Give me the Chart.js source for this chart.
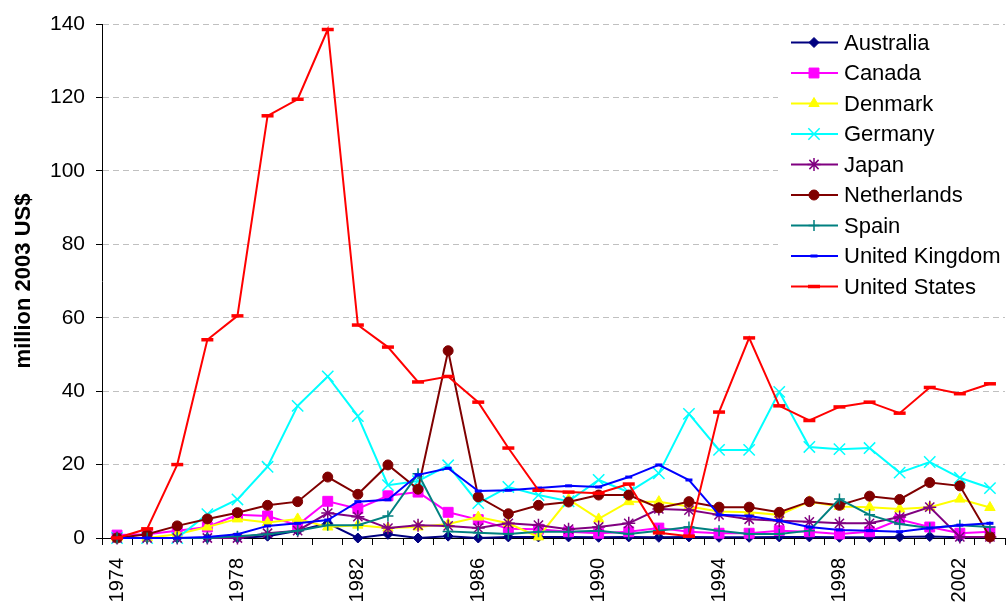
<!DOCTYPE html>
<html>
<head>
<meta charset="utf-8">
<script src="https://cdn.jsdelivr.net/npm/chart.js@4/dist/chart.umd.min.js"></script>
<style>
  html, body { margin: 0; padding: 0; background: #fff; }
  canvas { display: block; }
</style>
</head>
<body>
<canvas id="chart" width="1007" height="603"></canvas>
<script>
const FONT = '"Liberation Sans", Arial, sans-serif';

const YEARS = ['1974','1975','1976','1977','1978','1979','1980','1981','1982','1983',
  '1984','1985','1986','1987','1988','1989','1990','1991','1992','1993',
  '1994','1995','1996','1997','1998','1999','2000','2001','2002','2003'];

const AUSTRALIA = [0,0,0,0,0,0.5,2,4,0,1,0,0.5,0,0.3,0.3,0.3,0.2,0.3,0.2,0.3,0.2,0.2,0.3,0.3,0.2,0.2,0.3,0.4,0.2,0.3];
const CANADA = [0.8,1,2,3,6.3,6,3.5,10,8,11.5,12.5,7,5,2.5,2.4,1.7,1.3,1.7,2.7,1.7,1.3,1.3,2,1.7,1.1,1.7,5,3,1.3,1.7];
const DENMARK = [0,0,1,3,5.2,4.2,5.2,3,3.5,2.7,3,3.8,5.7,4,0.3,10.5,5.2,9.9,9.9,8.6,7.2,7,6.3,9.9,8.6,8.4,7.9,8.4,10.6,8.3];
const GERMANY = [0,0,0,6.5,10.5,19.4,36,44,33.2,14.4,15.5,19.8,9.5,13.9,11.7,10,15.8,12.5,17.6,33.8,24,24,39.8,24.8,24.2,24.5,17.8,20.7,16.4,13.6];
const JAPAN = [0,0,0,0,0,1.3,2,6.8,5.8,2.7,3.5,3.3,2.7,4,3.5,2.4,3,4,7.9,7.6,6.3,5.1,4.7,4.4,4,4,5.7,8.4,0.3,0.3];
const NETHERLANDS = [0,1,3.3,5.2,6.9,8.9,9.9,16.6,11.9,19.9,13.3,51,11.2,6.6,8.9,9.8,11.7,11.7,8.2,9.9,8.4,8.4,7,9.9,8.9,11.4,10.5,15.1,14.2,0.3];
const SPAIN = [0,0,0,0,0.5,1,2,3.5,3.5,6,17.5,1.8,1.4,1.1,1.7,1.7,2,1.1,2,3,2,1.1,1.1,2,10.6,6.3,3.8,2.7,3.5,3];
const UNITED_KINGDOM = [0,0,0,0.3,1,3.3,4,4.9,9.9,10.4,17.2,19,12.8,13,13.6,14.2,13.9,16.6,19.9,15.8,6.3,6,4.7,3,2.2,2,1.7,2.7,3.5,4];
const UNITED_STATES = [0,2.5,20,54,60.5,115,119.5,138.5,58,52,42.5,44,37,24.5,13,12.5,12.2,14.7,1.4,0.5,34.3,54.5,36,32,35.7,37,34,41,39.3,42];

const SERIES = [
  ['Australia', AUSTRALIA, '#000080', 'rectRot', 5, 1],
  ['Canada', CANADA, '#ff00ff', 'rect', 7, 1],
  ['Denmark', DENMARK, '#ffff00', 'triangle', 6, 1],
  ['Germany', GERMANY, '#00ffff', 'crossRot', 8, 1.5],
  ['Japan', JAPAN, '#800080', 'star', 6.5, 1.5],
  ['Netherlands', NETHERLANDS, '#800000', 'circle', 5, 1],
  ['Spain', SPAIN, '#008080', 'cross', 5.5, 1.5],
  ['United Kingdom', UNITED_KINGDOM, '#0000ff', 'line', 3.5, 3],
  ['United States', UNITED_STATES, '#ff0000', 'line', 6, 3.5]
];

const datasets = SERIES.map(([label, data, color, style, r, bw], i) => ({
  label,
  data,
  borderColor: color,
  backgroundColor: color,
  borderWidth: 2,
  pointStyle: style,
  pointRadius: r,
  pointBorderWidth: bw,
  pointBackgroundColor: color,
  pointBorderColor: color,
  tension: 0,
  clip: false,
  order: SERIES.length - i
}));

// legend drawn inside the plot, top right, like the original
const legendBox = {
  id: 'legendBox',
  afterDraw(chart) {
    const c = chart.ctx,
      area = chart.chartArea,
      left = area.right - 227,
      top = area.top + 3
    c.save()
    c.fillStyle = '#fff'
    c.fillRect(left, top, chart.width - left, 276)
    chart.data.datasets.forEach((ds, i) => {
      const y = top + 15.5 + i * 30.5
      c.strokeStyle = ds.borderColor
      c.lineWidth = 2
      c.beginPath()
      c.moveTo(left + 13, y)
      c.lineTo(left + 60, y)
      c.stroke()
      c.fillStyle = ds.pointBackgroundColor
      c.strokeStyle = ds.pointBorderColor
      c.lineWidth = ds.pointBorderWidth
      Chart.helpers.drawPoint(c, {
        pointStyle: ds.pointStyle,
        radius: ds.pointRadius,
        borderWidth: ds.pointBorderWidth,
        rotation: 0
      }, left + 36, y)
      c.fillStyle = '#000'
      c.font = '22px ' + FONT
      c.textBaseline = 'middle'
      c.textAlign = 'left'
      c.fillText(ds.label, left + 66, y + 1)
    })
    c.restore()
  }
}

new Chart(document.getElementById('chart'), {
  type: 'line',
  data: { labels: YEARS, datasets },
  plugins: [legendBox],
  options: {
    responsive: false,
    animation: false,
    layout: { autoPadding: false, padding: { top: 24, right: 2, left: 0, bottom: 0 } },
    plugins: {
      legend: { display: false },
      tooltip: { enabled: false }
    },
    scales: {
      x: {
        offset: true,
        grid: { offset: true, drawOnChartArea: false, tickLength: 7, color: '#000', tickColor: '#000' },
        border: { color: '#000', width: 1 },
        ticks: {
          autoSkip: false,
          minRotation: 90,
          maxRotation: 90,
          padding: 13,
          color: '#000',
          font: { family: FONT, size: 20 },
          callback: (v, i) => i % 4 === 0 ? YEARS[i] : ''
        },
        afterFit(scale) {
          scale.height = 65
          scale.paddingLeft = 0
          scale.paddingRight = 0
        }
      },
      y: {
        min: 0,
        max: 140,
        ticks: { stepSize: 20, padding: 11, color: '#000', font: { family: FONT, size: 21 } },
        grid: { color: '#c0c0c0', tickColor: '#000', tickLength: 6, tickBorderDash: [] },
        border: { color: '#000', width: 1, dash: [6, 4] },
        title: {
          display: true,
          text: 'million 2003 US$',
          color: '#000',
          font: { family: FONT, size: 22, weight: 'bold' },
          padding: { top: 11, bottom: 0 }
        },
        afterFit(scale) { scale.width = 102 }
      }
    }
  }
})
</script>
</body>
</html>
